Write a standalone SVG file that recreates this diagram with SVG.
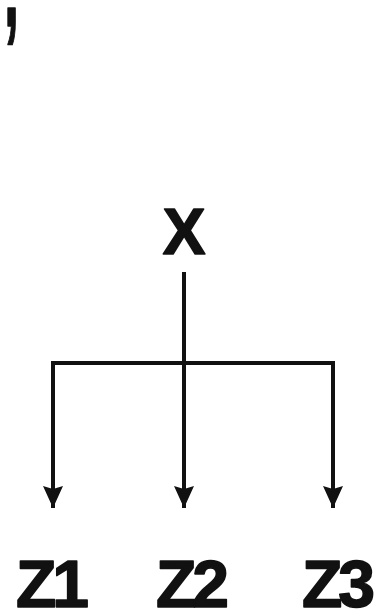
<svg xmlns="http://www.w3.org/2000/svg" width="378" height="615" viewBox="0 0 378 615">
  <style>
    .lbl { font-family: "Liberation Sans", Arial, sans-serif; font-weight: bold; fill: #111; stroke: #111; stroke-width: 1.6; stroke-linejoin: round; }
    .con { stroke: #111; stroke-width: 4; fill: none; }
  </style>
  <defs>
    <marker id="arr" markerUnits="userSpaceOnUse" markerWidth="20" markerHeight="22" viewBox="0 0 20 22" refX="10" refY="22" orient="0">
      <path d="M0,0 L10,3 L20,0 L10,22 Z" fill="#111"/>
    </marker>
  </defs>
  <rect width="378" height="615" fill="#fff"/>
  <text class="lbl" transform="translate(4,26) scale(0.45,1)" font-size="120" stroke-width="0">,</text>
  <g id="connectors">
    <path class="con" d="M184,272 V508" marker-end="url(#arr)"/>
    <path class="con" d="M53,363 H333"/>
    <path class="con" d="M53,361 V508" marker-end="url(#arr)"/>
    <path class="con" d="M333,361 V508" marker-end="url(#arr)"/>
  </g>
  <g id="node-X">
    <text class="lbl" x="184" y="254" font-size="64" text-anchor="middle">X</text>
  </g>
  <g id="node-Z1">
    <text class="lbl" x="16" y="607" font-size="66" letter-spacing="-4">Z1</text>
  </g>
  <g id="node-Z2">
    <text class="lbl" x="156" y="607" font-size="66" letter-spacing="-4">Z2</text>
  </g>
  <g id="node-Z3">
    <text class="lbl" x="302" y="607" font-size="66" letter-spacing="-4">Z3</text>
  </g>
</svg>
